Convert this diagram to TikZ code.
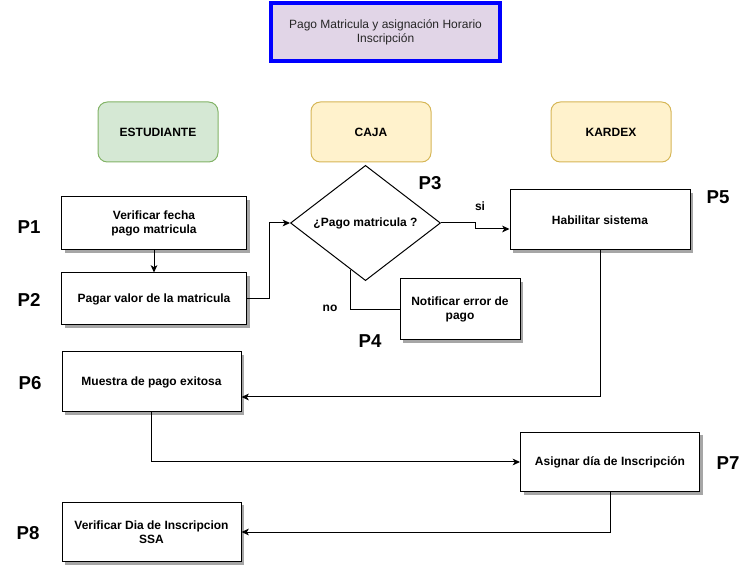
\documentclass[tikz,border=0pt]{standalone}
\usepackage{fontspec}
\setmainfont{Liberation Sans}
\usetikzlibrary{arrows.meta,shapes.geometric,shadows,calc}
\definecolor{titlefill}{HTML}{E1D5E7}
\definecolor{greenfill}{HTML}{D5E8D4}
\definecolor{greenline}{HTML}{82B366}
\definecolor{yelfill}{HTML}{FFF2CC}
\definecolor{yelline}{HTML}{D6B656}
\definecolor{titleblue}{HTML}{0000FF}
\tikzset{
  px/.style={x=0.75pt,y=-0.75pt},
  procbox/.style={draw=black, fill=white, line width=0.75pt, align=center,
    font=\fontsize{9pt}{10.5pt}\selectfont\bfseries, inner sep=2pt,
    drop shadow={shadow xshift=2.25pt, shadow yshift=-2.25pt, opacity=0.35, fill=black}},
  lanehead/.style={draw, line width=0.75pt, rounded corners=7pt, align=center,
    minimum width=90pt, minimum height=45pt, font=\fontsize{9pt}{10.5pt}\selectfont\bfseries},
  plabel/.style={font=\fontsize{14pt}{16pt}\selectfont\bfseries},
  elabel/.style={font=\fontsize{9pt}{10.5pt}\selectfont\bfseries},
  conn/.style={draw=black, line width=0.75pt},
  arr/.style={conn, -{Stealth[length=5.5pt,width=5pt,inset=1.5pt]}},
}
\begin{document}
\begin{tikzpicture}[px]
\useasboundingbox (0,0) rectangle (750,566);
% title
\node[draw=titleblue, fill=titlefill, line width=3pt, minimum width=171.75pt, minimum height=43.5pt,
  align=center, font=\fontsize{9pt}{10.5pt}\selectfont, text=black!85] (title) at (385.5,32)
  {Pago Matricula y asignación Horario\\Inscripción};
% lane headers
\node[lanehead, fill=greenfill, draw=greenline] (est) at (158,132) {ESTUDIANTE};
\node[lanehead, fill=yelfill, draw=yelline] (caja) at (371,132) {CAJA};
\node[lanehead, fill=yelfill, draw=yelline] (kar) at (611,132) {KARDEX};
% process boxes
\node[procbox, minimum width=138.75pt, minimum height=39.75pt] (p1) at (154,223.5) {Verificar fecha\\pago matricula};
\node[procbox, minimum width=138.75pt, minimum height=39pt] (p2) at (154,299) {Pagar valor de la matricula};
\node[draw=black, line width=0.75pt, diamond, minimum width=112.5pt, minimum height=84pt, inner sep=0pt,
  font=\fontsize{9pt}{10.5pt}\selectfont\bfseries] (d) at (365.5,223) {¿Pago matricula ?};
\node[procbox, minimum width=135pt, minimum height=45pt] (hab) at (600,220) {Habilitar sistema};
\node[procbox, minimum width=90pt, minimum height=45.75pt] (notif) at (460,309.5) {Notificar error de\\pago};
\node[procbox, minimum width=134.25pt, minimum height=45pt] (p6) at (151.5,382) {Muestra de pago exitosa};
\node[procbox, minimum width=134.25pt, minimum height=44.5pt] (p7) at (610,462) {Asignar día de Inscripción};
\node[procbox, minimum width=134.25pt, minimum height=44.5pt] (p8) at (151.5,532) {Verificar Dia de Inscripcion\\SSA};
% labels
\node[plabel] (l1) at (29,227) {P1};
\node[plabel] (l2) at (29,300) {P2};
\node[plabel] (l3) at (430,183) {P3};
\node[plabel] (l4) at (370,341) {P4};
\node[plabel] (l5) at (718,197) {P5};
\node[plabel] (l6) at (30,383) {P6};
\node[plabel] (l7) at (728,463) {P7};
\node[plabel] (l8) at (28,533) {P8};
\node[elabel] (lsi) at (480,206) {si};
\node[elabel] (lno) at (330,308) {no};
% connectors
\draw[arr] (p1.south) -- (p2.north);
\draw[arr] (p2.east) -- ++(22,0) |- (d.west);
\coordinate (sibend) at (475,229);
\draw[arr] (d.east) -| (sibend) -- (sibend -| hab.west);
\coordinate (nostart) at ($(d.west)!0.8!(d.south)$);
\draw[conn] (nostart) |- (notif.west);
\draw[arr] (hab.south) |- ($(p6.east)+(0,15)$);
\draw[arr] (p6.south) |- (p7.west);
\draw[arr] (p7.south) |- (p8.east);
\end{tikzpicture}
\end{document}
